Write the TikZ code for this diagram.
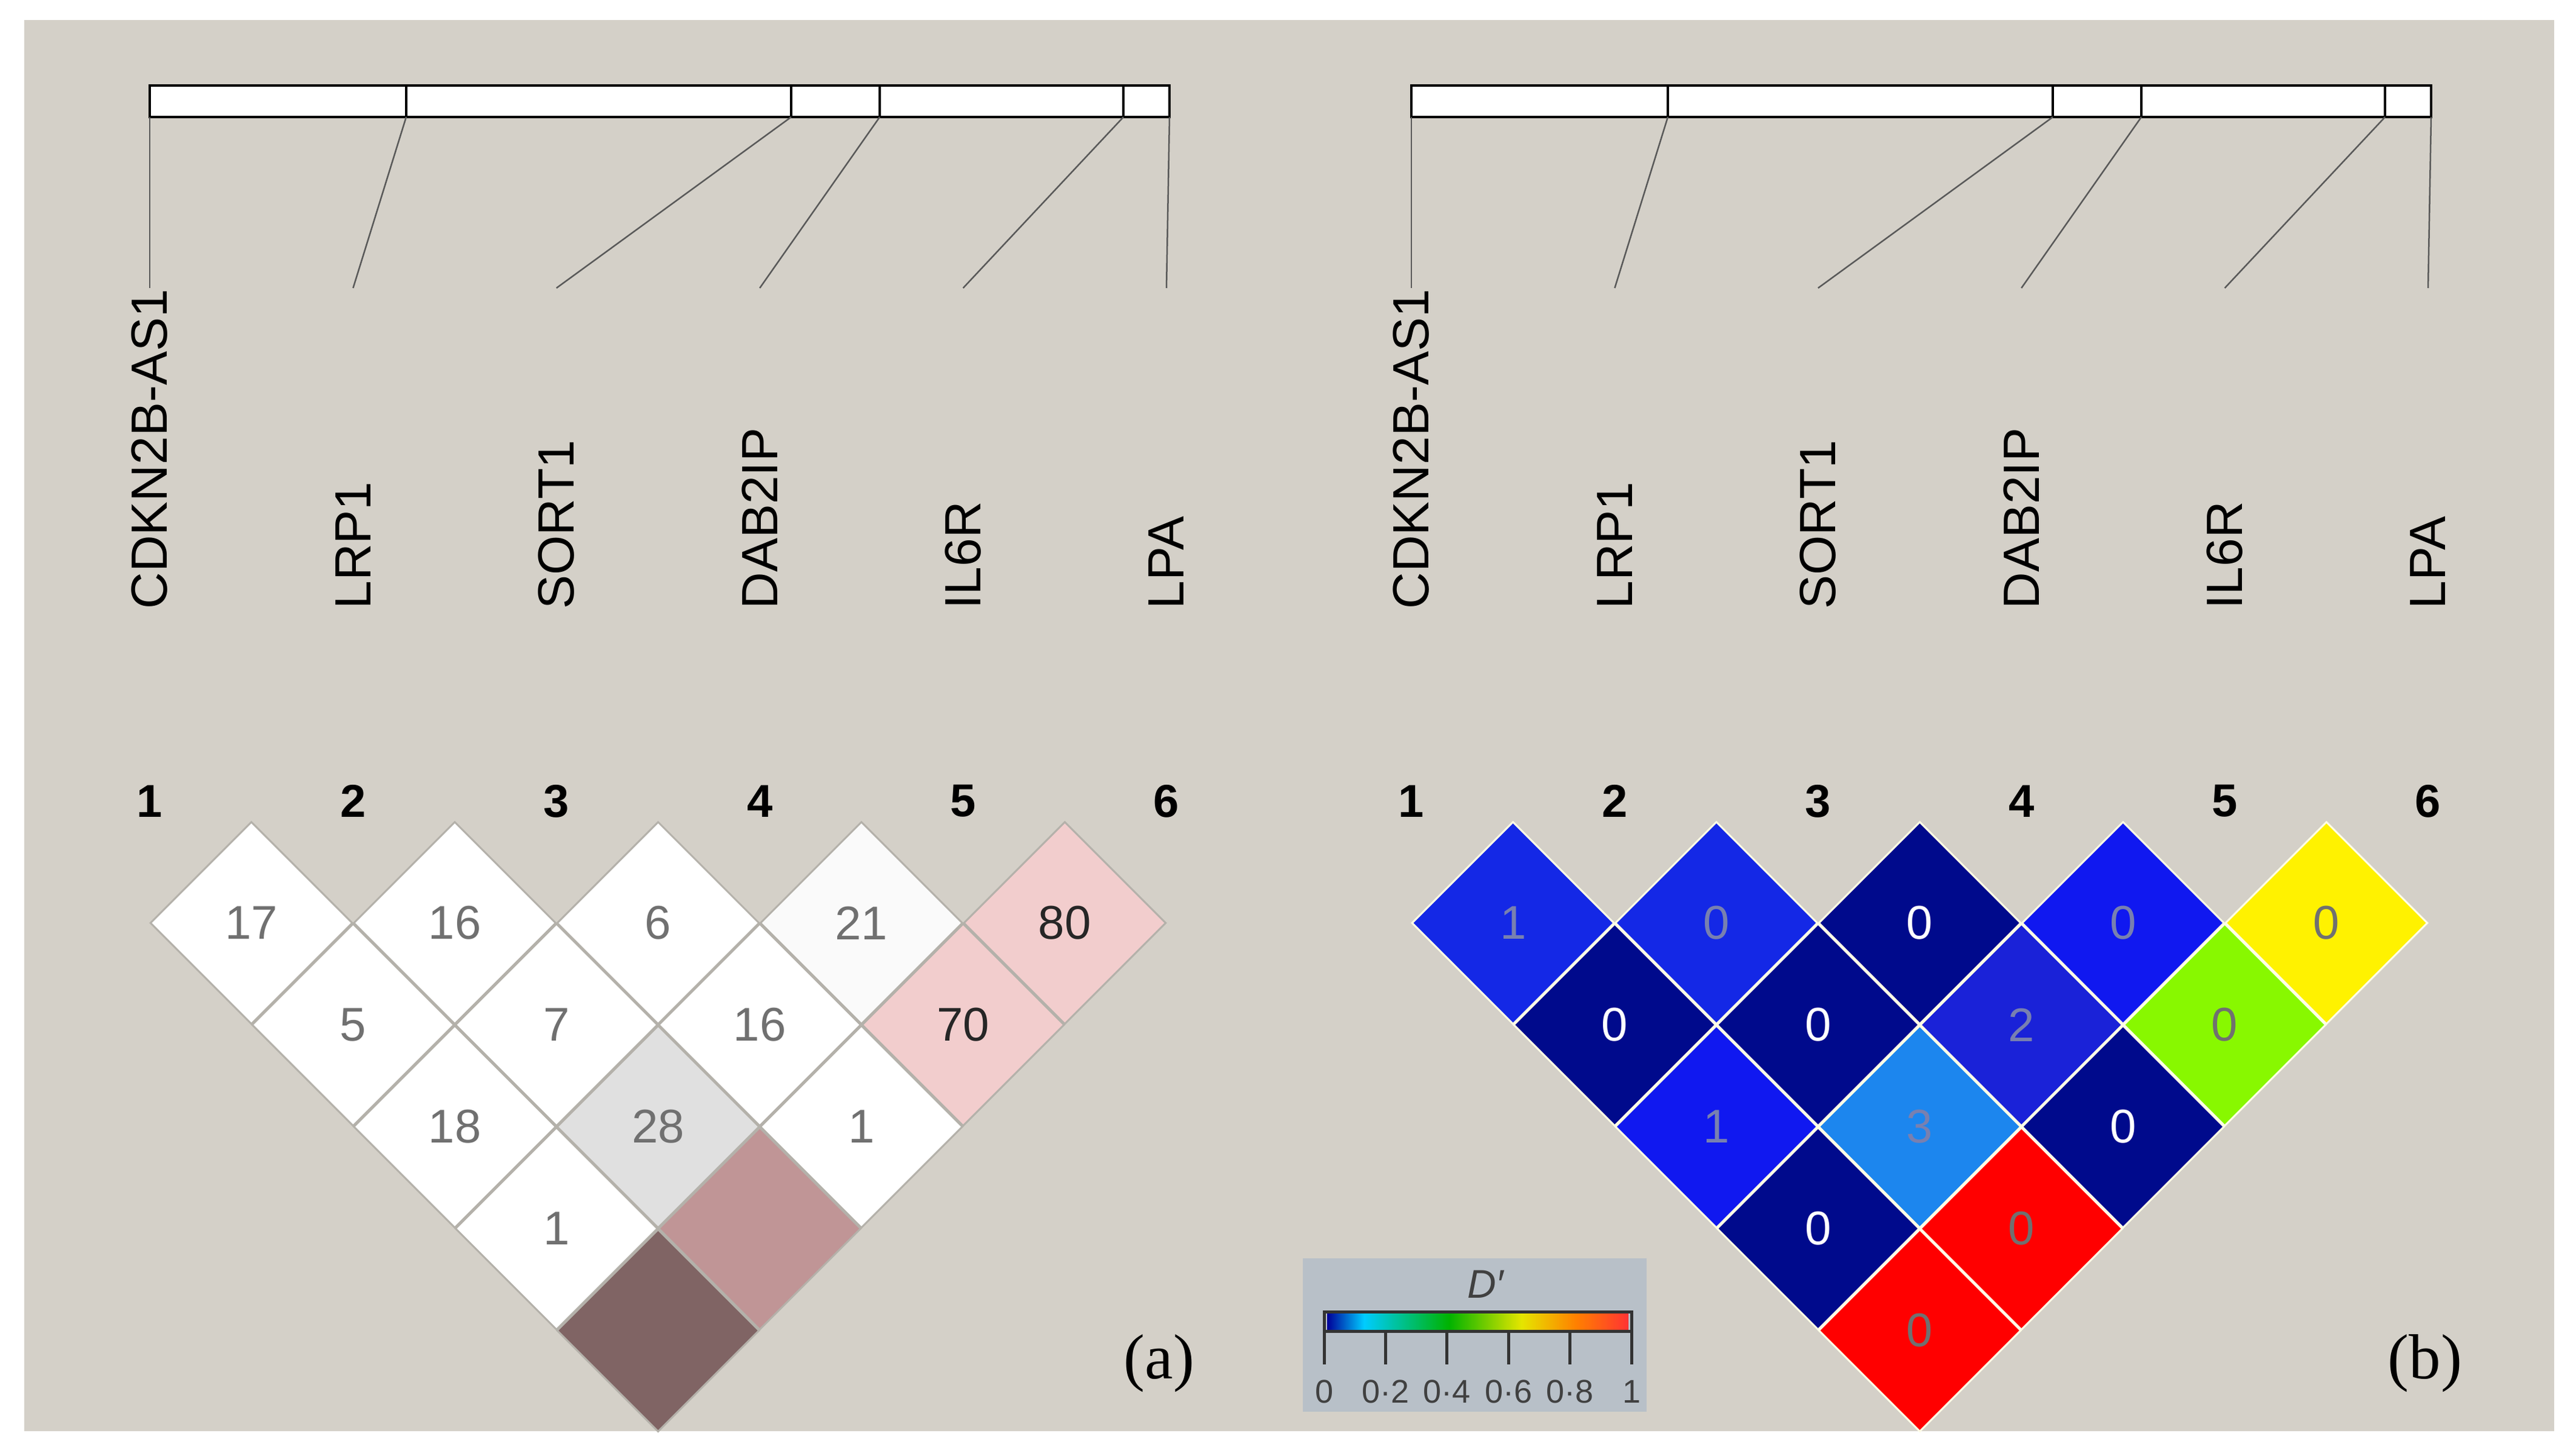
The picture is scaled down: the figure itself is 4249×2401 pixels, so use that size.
\documentclass[tikz,border=0pt]{standalone}
\usepackage{fontspec}
\setmainfont{Liberation Sans}
\newfontfamily\seriff{Liberation Serif}
\usetikzlibrary{shapes.geometric}
\definecolor{panel}{HTML}{D4D0C8}
\definecolor{tgray}{HTML}{707070}
\definecolor{pinkc}{HTML}{F2CDCD}
\definecolor{rosec}{HTML}{C09596}
\definecolor{brownc}{HTML}{806464}
\definecolor{lgray}{HTML}{E0E0E0}
\definecolor{navy}{HTML}{000A8C}
\definecolor{blueA}{HTML}{1428E6}
\definecolor{blueB}{HTML}{1018F0}
\definecolor{blueC}{HTML}{1A22D8}
\definecolor{azure}{HTML}{1C86EE}
\definecolor{lime}{HTML}{88F800}
\definecolor{btext}{HTML}{7880B0}
\definecolor{legbg}{HTML}{B8C0C8}
\begin{document}
\begin{tikzpicture}[x=1pt,y=-1pt,
  cell/.style={diamond,aspect=1,minimum width=334pt,minimum height=334pt,inner sep=0pt,line width=3pt},
  num/.style={font=\fontsize{78}{78}\selectfont},
  idx/.style={font=\bfseries\fontsize{76}{76}\selectfont},
  gene/.style={rotate=90,anchor=west,font=\fontsize{84}{84}\selectfont},
  lnk/.style={draw=black!65,line width=2.5pt}]
\useasboundingbox (0,0) rectangle (4249,2401);
\fill[white] (0,0) rectangle (4249,2401);
\fill[panel] (40,33) rectangle (4213,2360);
% ---------------- panels --------------
\foreach \p/\off in {a/0,b/2081}{
  \begin{scope}[xshift=\off pt]
  \draw[line width=4pt,fill=white] (247,141) rectangle (1929,193);
  \foreach \t in {670,1305,1451,1853}{\draw[line width=4pt] (\t,141) -- (\t,193);}
  \foreach \k/\t/\g in {1/247/CDKN2B-AS1,2/670/LRP1,3/1305/SORT1,4/1451/DAB2IP,5/1853/IL6R,6/1929/LPA}{
    \pgfmathsetmacro\mx{247+(\k-1)*335.4}
    \coordinate (\p top\k) at (\t,193);
    \coordinate (\p bot\k) at (\mx,475);
    \draw[lnk] (\p top\k) -- (\p bot\k);
    \node[gene] (\p g\k) at (\mx,1008) {\g};
    \node[idx] (\p i\k) at (\mx,1321) {\k};
  }
  \end{scope}
}
% ---------------- panel a cells --------------
\foreach \i/\j/\f/\v/\tc in {1/2/white/17/tgray,2/3/white/16/tgray,3/4/white/6/tgray,4/5/white!98!black/21/tgray,5/6/pinkc/80/black!85,
  1/3/white/5/tgray,2/4/white/7/tgray,3/5/white/16/tgray,4/6/pinkc/70/black!85,
  1/4/white/18/tgray,2/5/lgray/28/tgray,3/6/white/1/tgray,
  1/5/white/1/tgray,2/6/rosec//tgray,1/6/brownc//tgray}{
  \pgfmathsetmacro\cx{247+(\i+\j-2)*167.7}
  \pgfmathsetmacro\cy{1522+(\j-\i-1)*168}
  \node[cell,fill=\f,draw=panel!85!black,text=\tc,num] (a\i-\j) at (\cx,\cy) {\v};
}
% ---------------- panel b cells --------------
\foreach \i/\j/\f/\v/\tc in {1/2/blueA/1/btext,2/3/blueA/0/btext,3/4/navy/0/white,4/5/blueB/0/btext,5/6/yellow/0/tgray,
  1/3/navy/0/white,2/4/navy/0/white,3/5/blueC/2/btext,4/6/lime/0/tgray,
  1/4/blueB/1/btext,2/5/azure/3/btext,3/6/navy/0/white,
  1/5/navy/0/white,2/6/red/0/tgray,1/6/red/0/tgray}{
  \pgfmathsetmacro\cx{2328+(\i+\j-2)*167.7}
  \pgfmathsetmacro\cy{1522+(\j-\i-1)*168}
  \node[cell,fill=\f,draw=white!90!yellow,text=\tc,num] (b\i-\j) at (\cx,\cy) {\v};
}
% labels
\node[font=\seriff\fontsize{105}{105}\selectfont] (la) at (1912,2248) {(a)};
\node[font=\seriff\fontsize{105}{105}\selectfont] (lb) at (4000,2248) {(b)};
% legend
\fill[legbg] (2149,2075) rectangle (2716,2328);
\shade[left color=blue!60!black,right color=cyan!80!blue] (2189,2166) rectangle (2250,2192);
\shade[left color=cyan!80!blue,right color=green!70!black] (2250,2166) rectangle (2390,2192);
\shade[left color=green!70!black,right color=yellow!90!black] (2390,2166) rectangle (2510,2192);
\shade[left color=yellow!90!black,right color=orange] (2510,2166) rectangle (2600,2192);
\shade[left color=orange,right color=red!80!white] (2600,2166) rectangle (2686,2192);
\draw[line width=5pt,black!80] (2184,2163) rectangle (2691,2195);
\node[font=\itshape\fontsize{66}{66}\selectfont,text=black!75] (dp) at (2450,2118) {D′};
\foreach \k/\lab in {0/0,1/0·2,2/0·4,3/0·6,4/0·8,5/1}{
  \pgfmathsetmacro\tx{2184+\k*101.4}
  \coordinate (tk\k) at (\tx,2195);
  \coordinate (te\k) at (\tx,2250);
  \draw[line width=5pt,black!80] (tk\k) -- (te\k);
  \node[font=\fontsize{54}{54}\selectfont,text=black!75] (tl\k) at (\tx,2295) {\lab};
}
\end{tikzpicture}
\end{document}
